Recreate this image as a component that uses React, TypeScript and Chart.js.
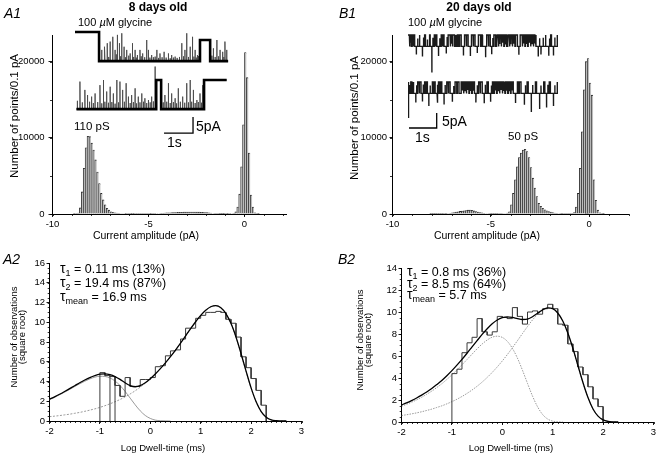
import React, { useEffect, useRef } from "react";
import { Chart, registerables } from "chart.js";

Chart.register(...registerables);

const FONT = '"Liberation Sans", Arial, Helvetica, sans-serif';
const FIG_W = 669;
const FIG_H = 459;

// ---------------- A1 / B1 : amplitude histograms (0.1 pA bins) ----------------
const AMP_BIN = 0.1;
const A1_FIRST_CENTER = -8.95;
const A1_COUNTS = [
  0, 10, 40, 130, 800, 2900, 6000, 8700, 10200, 10150,
  9300, 8400, 7100, 5500, 4000, 2700, 1850, 1200, 750, 500,
  300, 220, 160, 120, 90, 70, 60, 50, 45, 40,
  35, 30, 30, 25, 25, 25, 25, 20, 20, 20,
  25, 30, 35, 40, 50, 60, 80, 100, 120, 140,
  160, 170, 180, 190, 200, 210, 220, 230, 240, 250,
  250, 260, 260, 260, 250, 250, 240, 230, 220, 200,
  180, 150, 110, 70, 40, 25, 20, 15, 15, 15,
  20, 30, 40, 60, 100, 300, 900, 2600, 6200, 11700,
  21200, 17900, 8000, 2500, 900, 150, 40, 10, 0, 0,
];
const B1_FIRST_CENTER = -8.95;
const B1_COUNTS = [
  0, 0, 0, 0, 0, 0, 0, 0, 0, 5,
  5, 5, 10, 10, 10, 15, 20, 30, 50, 90,
  150, 200, 250, 300, 340, 380, 420, 460, 500, 520,
  480, 400, 330, 260, 200, 150, 100, 70, 50, 40,
  30, 30, 30, 30, 35, 40, 50, 70, 120, 300,
  1200, 2700, 4500, 6200, 7400, 8000, 8400, 8500, 8200, 7400,
  6100, 4700, 3400, 2300, 1400, 1000, 750, 550, 420, 320,
  250, 180, 130, 90, 60, 40, 30, 25, 20, 20,
  25, 40, 200, 900, 2700, 6000, 10800, 16300, 20000, 20400,
  17200, 15600, 4500, 1800, 500, 150, 40, 10, 0, 0,
];
const AMP_X_TICKS = [-10, -5, 0];
const AMP_Y_TICKS = [0, 10000, 20000];

// ---------------- A1 inset traces (s, pA) ----------------
const A1_OPEN = -9.1;
const A1_SUB = -2.5;
const A1_ROW1_STEPS: [number, number][] = [[0, 0], [0.83, A1_OPEN], [4.31, A1_SUB], [4.66, A1_OPEN]];
const A1_ROW1_END = 5.28;
const A1_ROW1_SPIKES: [number, number][] = [
  [0.92, -5.6], [1.0, -7.5], [1.03, -4.6], [1.11, -3.5], [1.16, -7.8], [1.21, -3.0], [1.3, -1.5], [1.38, -5.6],
  [1.42, -7.0], [1.46, -0.9], [1.53, -3.5], [1.57, -7.6], [1.61, -0.4], [1.69, -4.6], [1.74, -7.9], [1.78, -5.6],
  [1.85, -7.4], [1.9, -6.7], [1.98, -3.5], [2.02, -7.8], [2.07, -5.6], [2.11, -8.0], [2.15, -7.2], [2.24, -5.6],
  [2.28, -7.6], [2.33, -6.7], [2.4, -7.9], [2.47, -2.5], [2.53, -5.6], [2.58, -8.0], [2.64, -7.2], [2.7, -7.9],
  [2.76, -7.7], [2.82, -5.6], [2.88, -8.1], [2.93, -6.7], [3.0, -7.9], [3.07, -6.2], [3.14, -8.0], [3.22, -6.7],
  [3.28, -8.2], [3.33, -7.2], [3.39, -8.0], [3.45, -7.7], [3.52, -8.1], [3.6, -7.8], [3.68, -3.5], [3.74, -7.6],
  [3.79, -5.6], [3.85, -0.4], [3.91, -7.8], [3.97, -4.6], [4.05, -1.5], [4.1, -7.7], [4.14, -5.6], [4.18, -8.0],
  [4.22, -7.2], [4.26, -7.5], [4.72, -7.4], [4.77, -5.1], [4.83, -7.8], [4.89, -2.5], [4.95, -7.6], [5.0, -5.6],
  [5.09, -6.2], [5.13, -7.8], [5.17, -3.0], [5.23, -5.6],
];
const A1_ROW2_STEPS: [number, number][] = [[0.05, A1_OPEN], [2.8, 0], [2.97, A1_OPEN], [4.45, 0]];
const A1_ROW2_END = 5.23;
const A1_ROW2_SPIKES: [number, number][] = [
  [0.08, -6.5], [0.17, -0.5], [0.25, -7.0], [0.34, -3.1], [0.43, -4.7], [0.5, -6.8], [0.57, -5.2], [0.63, -7.2],
  [0.69, -4.2], [0.78, -6.9], [0.86, -1.6], [0.92, -7.3], [0.98, 0], [1.03, -6.8], [1.09, -3.6], [1.15, -7.1],
  [1.21, -2.1], [1.27, -6.9], [1.32, -4.2], [1.38, -7.4], [1.44, 0], [1.5, -7.0], [1.55, -0.5], [1.64, -3.1],
  [1.7, -6.8], [1.76, -1.0], [1.84, -5.2], [1.9, -7.2], [1.95, -4.7], [2.01, -6.9], [2.07, -2.6], [2.12, -7.3],
  [2.18, -5.2], [2.24, -7.0], [2.3, -4.2], [2.36, -6.8], [2.41, -5.7], [2.47, -7.2], [2.53, -6.25], [2.59, -7.0],
  [2.64, -5.2], [2.7, -6.7], [2.76, 4.2], [3.04, -7.0], [3.1, -4.7], [3.16, -6.8], [3.22, -1.0], [3.28, -7.2],
  [3.33, -4.2], [3.39, -6.9], [3.45, -5.7], [3.5, -7.3], [3.56, -2.6], [3.63, -6.8], [3.71, -5.2], [3.78, -7.1],
  [3.85, -1.0], [3.91, -7.0], [3.97, 0], [4.02, -6.8], [4.08, -3.1], [4.14, -7.2], [4.2, -6.25], [4.25, -6.9],
  [4.31, -4.2], [4.36, -7.1], [4.4, -1.6],
];

// ---------------- B1 inset traces (s, pA) ----------------
const B1_OPEN = -3.8;
const B1_ROW1_OPENINGS: [number, number][] = [
  [0.05, 0.07], [0.12, 0.15], [0.19, 0.21], [0.24, 0.4], [0.43, 0.6], [0.63, 0.78], [0.8, 0.95], [0.99, 1.01],
  [1.04, 1.2], [1.24, 1.26], [1.3, 1.45], [1.52, 1.54], [1.6, 1.62], [1.68, 1.7], [1.76, 1.78], [1.84, 1.86],
  [1.92, 2.05], [2.1, 2.12], [2.17, 2.3], [2.35, 2.37], [2.42, 2.55], [2.62, 2.64], [2.7, 2.85], [2.9, 2.92],
  [2.97, 3.1], [3.16, 3.18], [3.26, 3.28], [3.36, 3.38], [3.46, 3.48], [3.56, 3.58], [3.66, 3.68], [3.76, 3.78],
  [3.86, 3.88], [3.95, 4.05], [4.12, 4.14], [4.22, 4.24], [4.32, 4.34], [4.42, 4.44], [4.52, 4.54], [4.62, 4.95],
  [4.98, 5.15], [5.18, 5.38],
];
const B1_ROW1_SPIKES: [number, number][] = [
  [0.09, -2.6], [0.3, -6.5], [0.35, -1.2], [0.52, -7.2], [0.56, -0.8], [0.7, -1.5], [0.86, -12.5], [0.9, -0.9],
  [1.1, -7.0], [1.15, -1.1], [1.38, -6.2], [1.41, -0.7], [1.57, -2.9], [1.73, -3.1], [1.81, -2.7], [2.0, -6.8],
  [2.03, -1.0], [2.25, -7.0], [2.28, -1.3], [2.5, -6.0], [2.53, -0.6], [2.68, -2.5], [2.8, -7.4], [2.83, -1.2],
  [3.02, -6.4], [3.06, -1.0], [3.21, -2.8], [3.31, -3.0], [3.41, -2.6], [3.51, -3.2], [3.61, -2.7], [3.71, -3.1],
  [3.81, -2.9], [4.0, -6.6], [4.18, -2.8], [4.28, -3.0], [4.38, -2.6], [4.48, -3.1], [4.58, -2.8], [4.7, -7.2],
  [4.75, -1.1], [4.8, -6.5], [4.88, -0.9], [5.08, -6.9], [5.11, -1.2], [5.25, -6.8], [5.3, -0.8],
];
const B1_ROW1_END = 5.4;
const B1_ROW2_OPENINGS: [number, number][] = [
  [0.0, 0.1], [0.14, 0.16], [0.2, 0.35], [0.4, 0.42], [0.47, 0.6], [0.64, 0.66], [0.7, 0.88], [0.92, 0.94],
  [0.98, 1.1], [1.15, 1.17], [1.22, 1.4], [1.45, 1.47], [1.52, 1.7], [1.76, 1.78], [1.84, 1.92], [2.0, 2.02],
  [2.1, 2.12], [2.2, 2.22], [2.3, 2.32], [2.4, 2.55], [2.6, 2.62], [2.68, 2.85], [2.9, 3.05], [3.1, 3.12],
  [3.2, 3.22], [3.3, 3.32], [3.4, 3.42], [3.5, 3.52], [3.6, 3.62], [3.7, 3.72], [3.8, 3.95], [4.0, 4.02],
  [4.08, 4.3], [4.34, 4.6], [4.64, 4.9], [4.94, 5.1], [5.14, 5.38],
];
const B1_ROW2_SPIKES: [number, number][] = [
  [0.03, -12.0], [0.06, -1.0], [0.18, -2.9], [0.28, -6.8], [0.31, -1.1], [0.52, -6.5], [0.55, -0.8], [0.75, -8.0],
  [0.8, -1.2], [1.05, -6.9], [1.08, -0.9], [1.3, -7.5], [1.34, -1.0], [1.6, -6.6], [1.65, -1.3], [1.96, -2.8],
  [2.06, -3.1], [2.16, -2.7], [2.26, -3.0], [2.36, -2.9], [2.45, -6.8], [2.5, -1.1], [2.75, -7.1], [2.79, -0.9],
  [2.98, -6.6], [3.01, -1.2], [3.16, -2.8], [3.26, -3.1], [3.36, -2.7], [3.46, -3.0], [3.56, -2.9], [3.66, -3.1],
  [3.76, -2.8], [3.88, -7.0], [4.2, -7.6], [4.24, -1.1], [4.45, -10.0], [4.5, -1.0], [4.75, -9.0], [4.8, -1.2],
  [5.0, -8.5], [5.05, -0.9], [5.25, -8.0], [5.3, -1.1],
];
const B1_ROW2_END = 5.4;

// scale bars: 1 s, 5 pA
const BAR_SECONDS = 1;
const BAR_PA = 5;

// ---------------- A2 / B2 : dwell-time histograms (sqrt counts) ----------------
const DWELL_BIN = 0.1;
const A2_HIST_X0 = -1.0;
const A2_HIST = [
  4.9, 4.6, 4.5, 3.6, 2.5, 4.4, 3.5, 3.5, 4.2, 4.2,
  4.4, 5.5, 5.6, 6.6, 7.1, 7.2, 8.3, 9.4, 9.4, 10.4,
  10.7, 11.0, 11.0, 11.1, 11.0, 10.3, 9.9, 8.5, 6.5, 5.4,
  4.3, 3.1, 1.6,
];
const A2_BAR_EDGES = [-0.8, -0.7];
const B2_HIST_X0 = -1.0;
const B2_HIST = [
  4.4, 4.8, 6.3, 7.2, 7.7, 9.4, 8.2, 7.9, 8.2, 9.6,
  9.5, 9.4, 10.4, 9.6, 8.9, 10.0, 10.1, 9.8, 10.3, 10.7,
  10.3, 8.9, 8.8, 7.1, 6.4, 5.0, 4.3, 3.2, 2.1, 1.4,
];
const FIT_X0 = -2.0;
const FIT_STEP = 0.1;
const A2_TOTAL = [
  2.21, 2.45, 2.71, 2.99, 3.28, 3.57, 3.87, 4.15, 4.4, 4.6,
  4.74, 4.77, 4.69, 4.5, 4.21, 3.87, 3.59, 3.47, 3.58, 3.87,
  4.28, 4.76, 5.3, 5.88, 6.51, 7.18, 7.89, 8.62, 9.35, 10.05,
  10.7, 11.22, 11.57, 11.68, 11.47, 10.88, 9.89, 8.51, 6.84, 5.05,
  3.35, 1.94, 0.95, 0.38, 0.11, 0.03, 0.0, 0.0,
];
const A2_C1 = [
  2.17, 2.4, 2.66, 2.92, 3.2, 3.49, 3.77, 4.03, 4.26, 4.44,
  4.53, 4.51, 4.36, 4.05, 3.59, 3.0, 2.32, 1.64, 1.03, 0.56,
  0.26, 0.09, 0.03, 0.01, 0.0,
];
const A2_C2 = [
  0.44, 0.49, 0.55, 0.62, 0.69, 0.78, 0.87, 0.98, 1.1, 1.23,
  1.38, 1.55, 1.74, 1.95, 2.18, 2.44, 2.74, 3.06, 3.43, 3.83,
  4.27, 4.76, 5.3, 5.88, 6.51, 7.18, 7.89, 8.62, 9.35, 10.05,
  10.7, 11.22, 11.57, 11.68, 11.47, 10.88, 9.89, 8.51, 6.84, 5.05,
  3.35, 1.94, 0.95, 0.38, 0.11, 0.03, 0.0, 0.0,
];
const B2_TOTAL = [
  1.55, 1.74, 1.95, 2.18, 2.44, 2.72, 3.04, 3.4, 3.78, 4.21,
  4.67, 5.17, 5.69, 6.25, 6.83, 7.4, 7.96, 8.48, 8.93, 9.27,
  9.48, 9.56, 9.51, 9.4, 9.32, 9.36, 9.57, 9.89, 10.2, 10.37,
  10.3, 9.91, 9.18, 8.09, 6.71, 5.14, 3.59, 2.22, 1.18, 0.53,
  0.19, 0.05, 0.01, 0.0,
];
const B2_C1 = [
  1.43, 1.61, 1.8, 2.01, 2.25, 2.52, 2.81, 3.13, 3.48, 3.87,
  4.29, 4.73, 5.2, 5.68, 6.17, 6.65, 7.09, 7.45, 7.71, 7.8,
  7.69, 7.33, 6.7, 5.81, 4.71, 3.51, 2.35, 1.38, 0.68, 0.27,
  0.08, 0.02, 0.0,
];
const B2_C2 = [
  0.59, 0.66, 0.74, 0.83, 0.93, 1.05, 1.17, 1.32, 1.47, 1.65,
  1.85, 2.07, 2.32, 2.6, 2.91, 3.25, 3.63, 4.05, 4.51, 5.01,
  5.55, 6.13, 6.75, 7.39, 8.04, 8.68, 9.28, 9.79, 10.17, 10.36,
  10.3, 9.91, 9.18, 8.09, 6.71, 5.14, 3.59, 2.22, 1.18, 0.53,
  0.19, 0.05, 0.01, 0.0,
];
const DWELL_X_TICKS = [-2, -1, 0, 1, 2, 3];
const A2_Y_TICKS = [0, 2, 4, 6, 8, 10, 12, 14, 16];
const B2_Y_TICKS = [0, 2, 4, 6, 8, 10, 12, 14];

// ---------------- helpers ----------------
type Pt = { x: number; y: number };

const series = (x0: number, step: number, vals: number[]): Pt[] =>
  vals.map((v, i) => ({ x: x0 + i * step, y: v }));

function stepOutline(x0: number, w: number, vals: number[]): Pt[] {
  const pts: Pt[] = [{ x: x0, y: 0 }];
  vals.forEach((v, i) => {
    pts.push({ x: x0 + i * w, y: v }, { x: x0 + (i + 1) * w, y: v });
  });
  pts.push({ x: x0 + vals.length * w, y: 0 });
  return pts;
}

function edgeLines(x0: number, w: number, vals: number[], edges: number[]) {
  return edges.map((e) => {
    const k = Math.round((e - x0) / w);
    const h = Math.max(vals[k - 1] ?? 0, vals[k] ?? 0);
    return [{ x: e, y: 0 }, { x: e, y: h }];
  });
}

function buildTrace(steps: [number, number][], spikes: [number, number][], end: number, offset: number): Pt[] {
  const ev: any[] = [
    ...steps.map(([t, l]) => ({ t, kind: 0, v: l })),
    ...spikes.map(([t, p]) => ({ t, kind: 1, v: p })),
  ].sort((a, b) => a.t - b.t || a.kind - b.kind);
  const pts: Pt[] = [];
  let cur: number | null = null;
  for (const e of ev) {
    if (e.kind === 0) {
      if (cur !== null) pts.push({ x: e.t, y: cur + offset });
      pts.push({ x: e.t, y: e.v + offset });
      cur = e.v;
    } else if (cur !== null) {
      pts.push({ x: e.t, y: cur + offset }, { x: e.t, y: e.v + offset }, { x: e.t + 0.006, y: cur + offset });
    }
  }
  if (cur !== null) pts.push({ x: end, y: cur + offset });
  return pts;
}

function openingsToSteps(openings: [number, number][], level: number): [number, number][] {
  const s: [number, number][] = [[0, 0]];
  openings.forEach(([a, b]) => s.push([a, level], [b, 0]));
  return s;
}

function minorTicks(spec: { axis: string; from: number; to: number; step: number; len: number }[]) {
  return {
    id: "minorTicks",
    afterDraw(chart: any) {
      const ctx = chart.ctx;
      const a = chart.chartArea;
      ctx.save();
      ctx.strokeStyle = "#000";
      ctx.lineWidth = 0.8;
      spec.forEach((s) => {
        const sc = chart.scales[s.axis];
        const n = Math.round((s.to - s.from) / s.step);
        for (let k = 0; k <= n; k++) {
          const p = sc.getPixelForValue(s.from + k * s.step);
          ctx.beginPath();
          if (s.axis === "x") {
            const px = Math.round(p) + 0.5;
            ctx.moveTo(px, a.bottom);
            ctx.lineTo(px, a.bottom + s.len);
          } else {
            const py = Math.round(p) + 0.5;
            ctx.moveTo(a.left - s.len, py);
            ctx.lineTo(a.left, py);
          }
          ctx.stroke();
        }
      });
      ctx.restore();
    },
  };
}

function axis(min: number, max: number, ticks: number[], o: { size: number; tick: number; pad: number; fit: number; x: boolean }) {
  return {
    type: "linear",
    min,
    max,
    offset: false,
    afterBuildTicks: (s: any) => {
      s.ticks = ticks.map((v) => ({ value: v }));
    },
    afterFit: (s: any) => {
      if (o.x) s.height = o.fit;
      else s.width = o.fit;
    },
    ticks: {
      callback: (v: any) => String(v),
      font: { family: FONT, size: o.size },
      color: "#000",
      padding: o.pad,
      maxRotation: 0,
      autoSkip: false,
    },
    grid: { display: true, drawOnChartArea: false, drawTicks: true, tickLength: o.tick, tickColor: "#000", tickWidth: 0.9, offset: false },
    border: { display: true, color: "#000", width: 1 },
  };
}

function pad(left: number, top: number, right: number, bottom: number) {
  return { left, top, right: FIG_W - right, bottom: FIG_H - bottom };
}

const baseOptions = {
  responsive: false,
  animation: false,
  events: [],
  plugins: { legend: { display: false }, tooltip: { enabled: false }, title: { display: false } },
};

function ampChart(canvas: HTMLCanvasElement, first: number, counts: number[], area: any, xmax: number, yTick: number, yPad: number) {
  const Y_W = 40;
  const X_H = 20;
  return new Chart(canvas, {
    type: "bar",
    data: {
      datasets: [
        {
          data: series(first, AMP_BIN, counts),
          backgroundColor: "#bdbdbd",
          borderColor: "#262626",
          borderWidth: { left: 0.8, top: 0.8, right: 0, bottom: 0 },
          borderSkipped: false,
          barPercentage: 1,
          categoryPercentage: 1,
        },
      ],
    },
    options: {
      ...baseOptions,
      layout: { padding: pad(area.left - Y_W, area.top, area.right, area.bottom + X_H) },
      scales: {
        x: axis(-10, xmax, AMP_X_TICKS, { size: 9.5, tick: 3, pad: 2, fit: X_H, x: true }),
        y: axis(0, 23500, AMP_Y_TICKS, { size: 9.5, tick: yTick, pad: yPad, fit: Y_W, x: false }),
      },
    } as any,
    plugins: [
      minorTicks([
        { axis: "x", from: -10, to: Math.floor(xmax), step: 1, len: 2 },
        { axis: "y", from: 0, to: 20000, step: 5000, len: 2.5 },
      ]),
    ],
  } as any);
}

function line(data: Pt[], color: string, width: number, order: number, extra: any = {}) {
  return {
    data,
    showLine: true,
    pointRadius: 0,
    borderColor: color,
    backgroundColor: color,
    borderWidth: width,
    tension: 0,
    order,
    ...extra,
  };
}

function traceChart(canvas: HTMLCanvasElement, area: any, xr: number[], yr: number[], datasets: any[]) {
  return new Chart(canvas, {
    type: "scatter",
    data: { datasets },
    options: {
      ...baseOptions,
      layout: { padding: pad(area.left, area.top, area.right, area.bottom) },
      scales: {
        x: { type: "linear", display: false, min: xr[0], max: xr[1] },
        y: { type: "linear", display: false, min: yr[0], max: yr[1] },
      },
    } as any,
  } as any);
}

function dwellChart(canvas: HTMLCanvasElement, area: any, ymax: number, yTicks: number[], datasets: any[]) {
  const Y_W = 30;
  const X_H = 18;
  return new Chart(canvas, {
    type: "scatter",
    data: { datasets },
    options: {
      ...baseOptions,
      layout: { padding: pad(area.left - Y_W, area.top, area.right, area.bottom + X_H) },
      scales: {
        x: axis(-2, 3, DWELL_X_TICKS, { size: 9.5, tick: 3, pad: 2, fit: X_H, x: true }),
        y: axis(0, ymax, yTicks, { size: 9.5, tick: 3, pad: 1.5, fit: Y_W, x: false }),
      },
    } as any,
    plugins: [
      minorTicks([
        { axis: "x", from: -2, to: 3, step: 0.1, len: 2 },
        { axis: "y", from: 0, to: ymax, step: 0.5, len: 1.8 },
      ]),
    ],
  } as any);
}

const curveOpts = { cubicInterpolationMode: "monotone", tension: 0.4 };

// ---------------- text helpers ----------------
function Txt(p: { x: number; y: number; size: number; bold?: boolean; italic?: boolean; align?: string; children: any }) {
  const tr = p.align === "center" ? "translateX(-50%)" : p.align === "right" ? "translateX(-100%)" : undefined;
  return (
    <div
      style={{
        position: "absolute",
        left: p.x,
        top: p.y - 0.8465 * p.size,
        fontSize: p.size,
        lineHeight: `${p.size}px`,
        fontFamily: FONT,
        fontWeight: p.bold ? 700 : 400,
        fontStyle: p.italic ? "italic" : "normal",
        whiteSpace: "nowrap",
        transform: tr,
        color: "#000",
      }}
    >
      {p.children}
    </div>
  );
}

function RotTxt(p: { cx: number; cy: number; size: number; lh: number; children: any }) {
  return (
    <div
      style={{
        position: "absolute",
        left: p.cx,
        top: p.cy,
        fontSize: p.size,
        lineHeight: `${p.lh}px`,
        fontFamily: FONT,
        whiteSpace: "nowrap",
        textAlign: "center",
        transform: "translate(-50%,-50%) rotate(-90deg)",
        color: "#000",
      }}
    >
      {p.children}
    </div>
  );
}

const Sub = ({ t }: { t: string }) => (
  <span style={{ fontSize: 9, position: "relative", top: 3 }}>{t}</span>
);

function TauLine({ x, y, sub, rest }: { x: number; y: number; sub: string; rest: string }) {
  return (
    <Txt x={x} y={y} size={12.5}>
      <span style={{ fontSize: 14 }}>τ</span>
      <Sub t={sub} /> {rest}
    </Txt>
  );
}

export default function App() {
  const refs = [useRef<HTMLCanvasElement>(null), useRef<HTMLCanvasElement>(null), useRef<HTMLCanvasElement>(null),
    useRef<HTMLCanvasElement>(null), useRef<HTMLCanvasElement>(null), useRef<HTMLCanvasElement>(null)];

  useEffect(() => {
    const charts: Chart[] = [];
    const [cA1, cB1, cA2, cB2, cTA, cTB] = refs.map((r) => r.current as HTMLCanvasElement);

    // A1, B1 amplitude histograms
    charts.push(ampChart(cA1, A1_FIRST_CENTER, A1_COUNTS, { left: 52.5, top: 35, right: 286.7, bottom: 214 }, 2.2, 4, 4));
    charts.push(ampChart(cB1, B1_FIRST_CENTER, B1_COUNTS, { left: 392.5, top: 35, right: 628.5, bottom: 214 }, 2.0, 3, 2.5));

    // A1 traces : 29 px/s, 3.2 px/pA
    const A1_ROW2_OFFSET = -15;
    const A1_BAR_T0 = 3.07;
    const A1_BAR_I0 = -31.6;
    charts.push(
      traceChart(cTA, { left: 75, top: 20, right: 234.5, bottom: 150 }, [0, 5.5], [-36.875, 3.75], [
        line(buildTrace(A1_ROW1_STEPS, [], A1_ROW1_END, 0), "#000", 2.6, 0),
        line(buildTrace(A1_ROW2_STEPS, [], A1_ROW2_END, A1_ROW2_OFFSET), "#000", 2.6, 0),
        line(buildTrace(A1_ROW1_STEPS, A1_ROW1_SPIKES, A1_ROW1_END, 0), "#4a4a4a", 0.9, 1),
        line(buildTrace(A1_ROW2_STEPS, A1_ROW2_SPIKES, A1_ROW2_END, A1_ROW2_OFFSET), "#4a4a4a", 0.9, 1),
        line(
          [
            { x: A1_BAR_T0, y: A1_BAR_I0 },
            { x: A1_BAR_T0 + BAR_SECONDS, y: A1_BAR_I0 },
            { x: A1_BAR_T0 + BAR_SECONDS, y: A1_BAR_I0 + BAR_PA },
          ],
          "#000", 1.3, 0
        ),
      ])
    );

    // B1 traces : 27.7 px/s, 3 px/pA
    const B1_ROW2_OFFSET = -15.67;
    const B1_BAR_T0 = 0.036;
    const B1_BAR_I0 = -31;
    charts.push(
      traceChart(cTB, { left: 408, top: 20, right: 560.35, bottom: 150 }, [0, 5.5], [-38.333, 5], [
        line(buildTrace(openingsToSteps(B1_ROW1_OPENINGS, B1_OPEN), B1_ROW1_SPIKES, B1_ROW1_END, 0), "#1a1a1a", 1.4, 1),
        line(buildTrace(openingsToSteps(B1_ROW2_OPENINGS, B1_OPEN), B1_ROW2_SPIKES, B1_ROW2_END, B1_ROW2_OFFSET), "#1a1a1a", 1.4, 1),
        line(
          [
            { x: B1_BAR_T0, y: B1_BAR_I0 },
            { x: B1_BAR_T0 + BAR_SECONDS, y: B1_BAR_I0 },
            { x: B1_BAR_T0 + BAR_SECONDS, y: B1_BAR_I0 + BAR_PA },
          ],
          "#000", 1.3, 0
        ),
      ])
    );

    // A2
    charts.push(
      dwellChart(cA2, { left: 49.5, top: 263, right: 301.5, bottom: 421 }, 16, A2_Y_TICKS, [
        line(series(FIT_X0, FIT_STEP, A2_TOTAL), "#000", 1.3, 0, curveOpts),
        line(stepOutline(A2_HIST_X0, DWELL_BIN, A2_HIST), "#3a3a3a", 1, 1),
        ...edgeLines(A2_HIST_X0, DWELL_BIN, A2_HIST, A2_BAR_EDGES).map((d) => line(d, "#3a3a3a", 1, 1)),
        line(series(FIT_X0, FIT_STEP, A2_C1), "#8f8f8f", 0.9, 2, curveOpts),
        line(series(FIT_X0, FIT_STEP, A2_C2), "#8f8f8f", 0.9, 2, { ...curveOpts, borderDash: [2, 1.5] }),
      ])
    );

    // B2
    charts.push(
      dwellChart(cB2, { left: 401.5, top: 268, right: 653.5, bottom: 422 }, 14, B2_Y_TICKS, [
        line(series(FIT_X0, FIT_STEP, B2_TOTAL), "#000", 1.3, 0, curveOpts),
        line(stepOutline(B2_HIST_X0, DWELL_BIN, B2_HIST), "#3a3a3a", 1, 1),
        line(series(FIT_X0, FIT_STEP, B2_C1), "#8f8f8f", 0.9, 2, { ...curveOpts, borderDash: [1.5, 1.2] }),
        line(series(FIT_X0, FIT_STEP, B2_C2), "#8f8f8f", 0.9, 2, { ...curveOpts, borderDash: [1.5, 1.2] }),
      ])
    );

    return () => charts.forEach((c) => c.destroy());
  }, []);

  const cv = { position: "absolute" as const, left: 0, top: 0 };

  return (
    <div style={{ position: "absolute", left: 0, top: 0, width: FIG_W, height: FIG_H, background: "#fff", overflow: "hidden" }}>
      {refs.map((r, i) => (
        <canvas key={i} ref={r} width={FIG_W} height={FIG_H} style={cv} />
      ))}

      {/* A1 */}
      <Txt x={4} y={18} size={14} italic>A1</Txt>
      <Txt x={158} y={11} size={12} bold align="center">8 days old</Txt>
      <Txt x={78} y={26} size={11}>100 <i>µ</i>M glycine</Txt>
      <Txt x={74} y={131} size={11.5}>110 pS</Txt>
      <Txt x={196} y={131} size={14}>5pA</Txt>
      <Txt x={167} y={146.5} size={14}>1s</Txt>
      <RotTxt cx={13.5} cy={116} size={11.5} lh={12}>Number of points/0.1 pA</RotTxt>
      <Txt x={146} y={238.5} size={10.5} align="center">Current amplitude (pA)</Txt>

      {/* B1 */}
      <Txt x={339} y={18} size={14} italic>B1</Txt>
      <Txt x={479} y={11} size={12} bold align="center">20 days old</Txt>
      <Txt x={408} y={26} size={11}>100 <i>µ</i>M glycine</Txt>
      <Txt x={442} y={126} size={14}>5pA</Txt>
      <Txt x={415} y={141.5} size={14}>1s</Txt>
      <Txt x={508} y={141} size={11.5}>50 pS</Txt>
      <RotTxt cx={354} cy={118} size={11.5} lh={12}>Number of points/0.1 pA</RotTxt>
      <Txt x={487} y={238.5} size={10.5} align="center">Current amplitude (pA)</Txt>

      {/* A2 */}
      <Txt x={3} y={263.5} size={14} italic>A2</Txt>
      <TauLine x={60} y={273} sub="1" rest="= 0.11 ms (13%)" />
      <TauLine x={60} y={287} sub="2" rest="= 19.4 ms (87%)" />
      <TauLine x={60} y={301} sub="mean" rest="= 16.9 ms" />
      <RotTxt cx={17.6} cy={337} size={9.5} lh={8.3}>
        Number of observations
        <br />
        (square root)
      </RotTxt>
      <Txt x={163} y={451.5} size={9.5} align="center">Log Dwell-time (ms)</Txt>

      {/* B2 */}
      <Txt x={338} y={263.5} size={14} italic>B2</Txt>
      <TauLine x={407} y={276} sub="1" rest="= 0.8 ms (36%)" />
      <TauLine x={407} y={287.5} sub="2" rest="= 8.5 ms (64%)" />
      <TauLine x={407} y={299} sub="mean" rest="= 5.7 ms" />
      <RotTxt cx={364} cy={340} size={9.5} lh={8.3}>
        Number of observations
        <br />
        (square root)
      </RotTxt>
      <Txt x={511} y={451.5} size={9.5} align="center">Log Dwell-time (ms)</Txt>
    </div>
  );
}
